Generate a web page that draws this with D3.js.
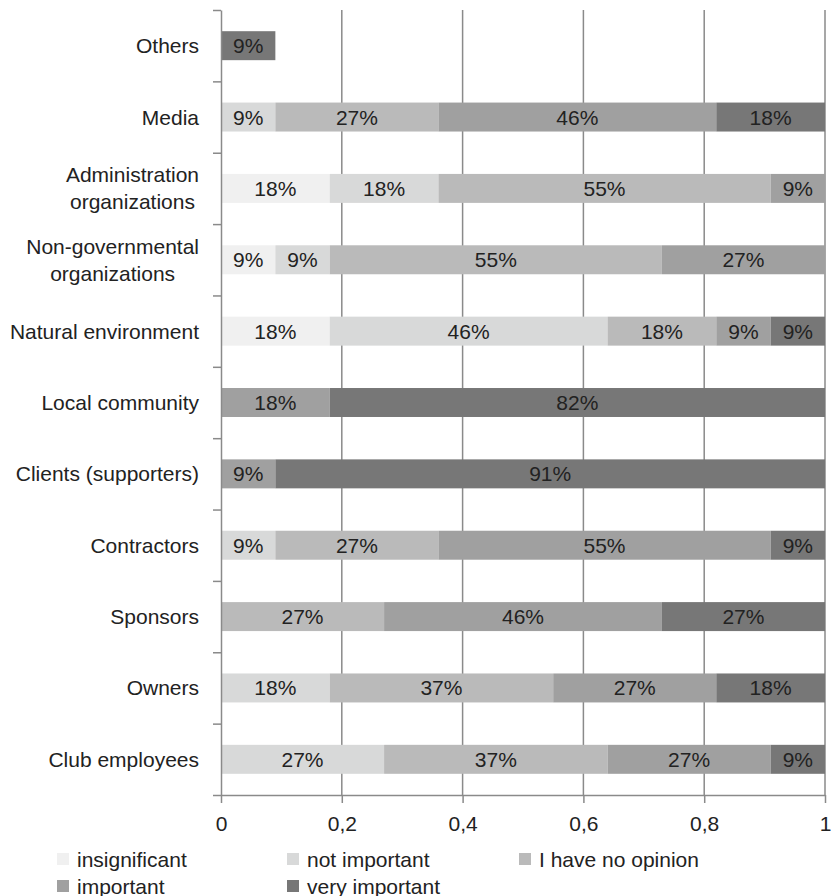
<!DOCTYPE html>
<html>
<head>
<meta charset="utf-8">
<script src="https://cdn.jsdelivr.net/npm/d3@7"></script>
<style>
  body { margin: 0; background: #fff; }
  text { font-family: "Liberation Sans", Arial, sans-serif; fill: #222; }
</style>
</head>
<body>
<div id="graph"></div>
<script>
// categories, top to bottom
const categories = ["Others", "Media", "Administration organizations", "Non-governmental organizations",
  "Natural environment", "Local community", "Clients (supporters)", "Contractors",
  "Sponsors", "Owners", "Club employees"];
const labelLines = [["Others"], ["Media"], ["Administration", "organizations"], ["Non-governmental", "organizations"],
  ["Natural environment"], ["Local community"], ["Clients (supporters)"], ["Contractors"],
  ["Sponsors"], ["Owners"], ["Club employees"]];

const seriesNames = ["insignificant", "not important", "I have no opinion", "important", "very important"];
const seriesColors = ["#f0f0f0", "#d8d9d9", "#bababa", "#a0a0a0", "#777777"];

// percent values per series, same order as categories
const insignificant = [0, 0, 18, 9, 18, 0, 0, 0, 0, 0, 0];
const notImportant  = [0, 9, 18, 9, 46, 0, 0, 9, 0, 18, 27];
const noOpinion     = [0, 27, 55, 55, 18, 0, 0, 27, 27, 37, 37];
const important     = [0, 46, 9, 27, 9, 18, 9, 55, 46, 27, 27];
const veryImportant = [9, 18, 0, 0, 9, 82, 91, 9, 27, 18, 9];
const xTicks = [0, 0.2, 0.4, 0.6, 0.8, 1];

const W = 831, H = 896;
const m = {left: 221, right: 825, top: 10, bottom: 795};
const fs = "21px";

const svg = d3.select("#graph").append("svg")
  .attr("width", W).attr("height", H);

const x = d3.scaleLinear().domain([0, 1]).range([m.left, m.right]);
const y = d3.scaleBand().domain(categories).range([m.top, m.bottom])
  .paddingInner(0.594).paddingOuter(0.297);

// gridlines
svg.append("g").selectAll("line")
  .data(xTicks.filter(d => d > 0))
  .join("line")
  .attr("x1", d => x(d)).attr("x2", d => x(d))
  .attr("y1", m.top).attr("y2", m.bottom)
  .attr("stroke", "#8a8a8a").attr("stroke-width", 1.5);

// stacked bars
const table = categories.map((c, i) => {
  const vals = [insignificant[i], notImportant[i], noOpinion[i], important[i], veryImportant[i]];
  const o = { cat: c };
  seriesNames.forEach((s, k) => o[s] = vals[k] / 100);
  return o;
});
const stacked = d3.stack().keys(seriesNames)(table);

const segs = [];
stacked.forEach((layer, k) => {
  layer.forEach(d => {
    if (d[1] - d[0] > 0) segs.push({ k, cat: d.data.cat, x0: d[0], x1: d[1] });
  });
});

const bars = svg.append("g");
bars.selectAll("rect").data(segs).join("rect")
  .attr("x", d => x(d.x0))
  .attr("y", d => y(d.cat))
  .attr("width", d => x(d.x1) - x(d.x0))
  .attr("height", y.bandwidth())
  .attr("fill", d => seriesColors[d.k]);

bars.selectAll("text").data(segs).join("text")
  .attr("x", d => (x(d.x0) + x(d.x1)) / 2)
  .attr("y", d => y(d.cat) + y.bandwidth() / 2)
  .attr("text-anchor", "middle")
  .attr("dominant-baseline", "central")
  .style("font-size", fs)
  .text(d => Math.round((d.x1 - d.x0) * 100) + "%");

// x axis
const xAxis = svg.append("g")
  .attr("transform", `translate(0,${m.bottom})`)
  .call(d3.axisBottom(x).tickValues(xTicks).tickSize(8).tickSizeOuter(0)
    .tickFormat(d => String(d).replace(".", ",")));
xAxis.select(".domain").attr("stroke", "#8a8a8a").attr("stroke-width", 1.5);
xAxis.selectAll(".tick line").attr("stroke", "#8a8a8a").attr("stroke-width", 1.5);
xAxis.selectAll(".tick text").attr("dy", null).attr("y", 28)
  .attr("dominant-baseline", "central")
  .style("font-size", fs).attr("fill", "#222");

// y axis: ticks on band boundaries
const yIdx = d3.scaleLinear().domain([0, categories.length]).range([m.top, m.bottom]);
const yAxis = svg.append("g")
  .attr("transform", `translate(${m.left},0)`)
  .call(d3.axisLeft(yIdx).tickValues(d3.range(categories.length + 1)).tickSize(8).tickSizeOuter(0).tickFormat(""));
yAxis.select(".domain").attr("stroke", "#8a8a8a").attr("stroke-width", 1.5);
yAxis.selectAll(".tick line").attr("stroke", "#8a8a8a").attr("stroke-width", 1.5);

// category labels
const labelRight = 199;
const lab = svg.append("g").selectAll("g").data(categories).join("g");
lab.each(function (c, i) {
  const g = d3.select(this);
  const lines = labelLines[i];
  const cy = y(c) + y.bandwidth() / 2;
  const lh = 27;
  const ts = lines.map((ln, j) => g.append("text")
    .attr("y", cy + (j - (lines.length - 1) / 2) * lh)
    .attr("dominant-baseline", "central")
    .attr("text-anchor", "middle")
    .style("font-size", fs)
    .text(ln));
  const maxW = d3.max(ts, t => t.node().getComputedTextLength());
  ts.forEach(t => t.attr("x", labelRight - maxW / 2));
});

// legend
const legendPos = [[57, 859], [287, 859], [519, 859], [57, 886], [287, 886]];
const leg = svg.append("g").selectAll("g").data(seriesNames).join("g")
  .attr("transform", (d, i) => `translate(${legendPos[i][0]},${legendPos[i][1]})`);
leg.append("rect").attr("x", 0).attr("y", -6).attr("width", 12).attr("height", 12)
  .attr("fill", (d, i) => seriesColors[i]);
leg.append("text").attr("x", 20).attr("y", 0)
  .attr("dominant-baseline", "central")
  .style("font-size", fs)
  .text(d => d);
</script>
</body>
</html>
